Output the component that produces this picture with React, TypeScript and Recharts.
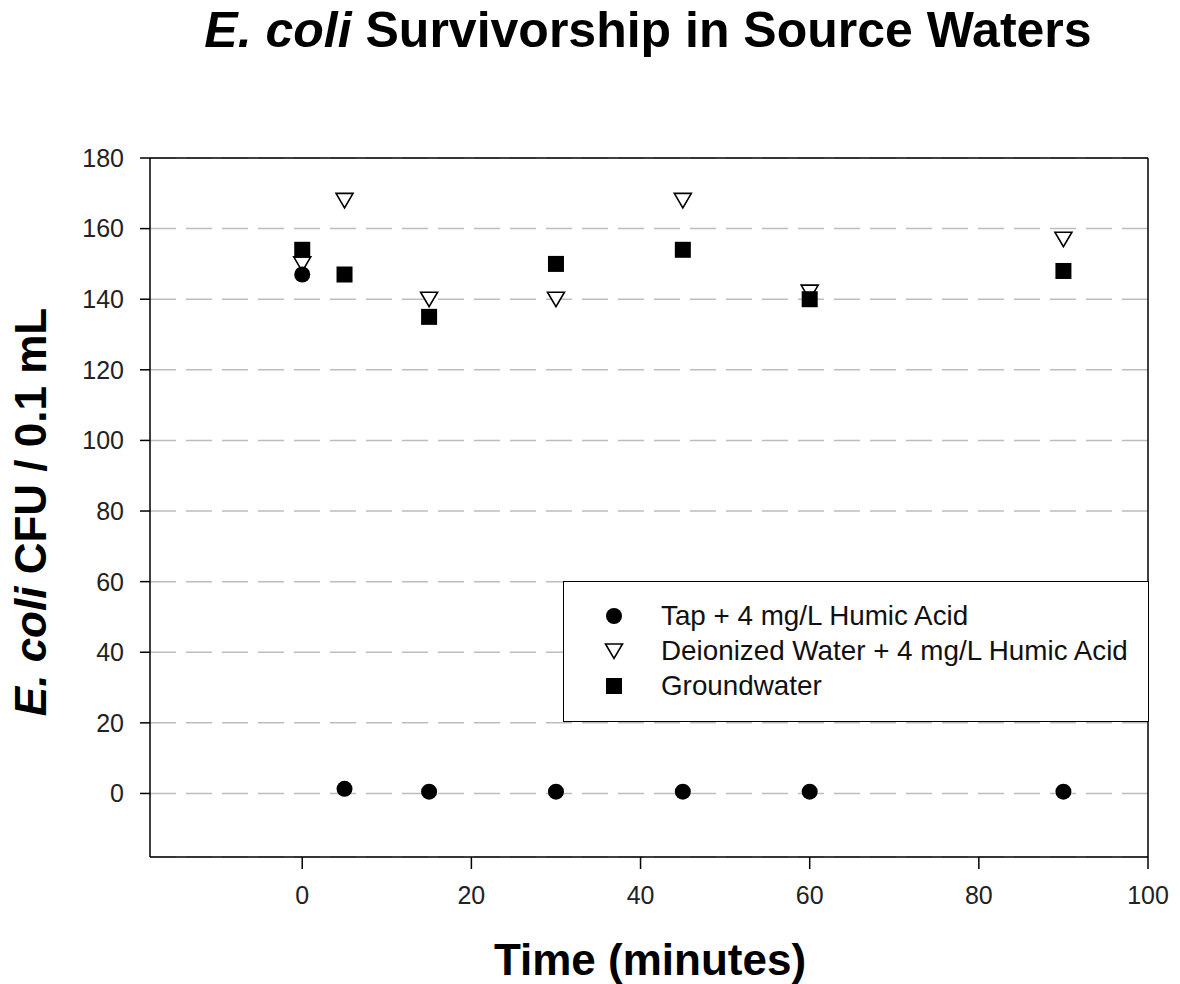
import React from 'react'
import { ScatterChart, Scatter, XAxis, YAxis, CartesianGrid, ReferenceLine } from 'recharts'

const times = [0, 5, 15, 30, 45, 60, 90]
const tapHumic = [147, 1.3, 0.5, 0.5, 0.5, 0.5, 0.5]
const deionizedHumic = [150, 168, 140, 140, 168, 142, 157]
const groundwater = [154, 147, 135, 150, 154, 140, 148]

const xTicks = [0, 20, 40, 60, 80, 100]
const yTicks = [0, 20, 40, 60, 80, 100, 120, 140, 160, 180]

const seriesNames = [
  'Tap + 4 mg/L Humic Acid',
  'Deionized Water + 4 mg/L Humic Acid',
  'Groundwater',
]

const toPoints = (vals: number[]) => times.map((t, i) => ({ x: t, y: vals[i] }))

const FONT = '"Liberation Sans", Arial, sans-serif'

const Dot = ({ cx, cy }: any) => <circle cx={cx} cy={cy} r={8} fill="#000" />
const Square = ({ cx, cy }: any) => <rect x={cx - 8} y={cy - 8} width={16} height={16} fill="#000" />
const TriDown = ({ cx, cy }: any) => (
  <path
    d={`M${cx - 8.5},${cy - 7} L${cx + 8.5},${cy - 7} L${cx},${cy + 7.5} Z`}
    fill="#fff"
    stroke="#000"
    strokeWidth={1.6}
  />
)

const legendMarkers = [
  <Dot cx={10} cy={10} />,
  <TriDown cx={10} cy={10} />,
  <Square cx={10} cy={10} />,
]

function LegendBox() {
  return (
    <div
      style={{
        position: 'absolute',
        left: 563,
        top: 581,
        width: 586,
        height: 141,
        border: '1.5px solid #000',
        background: '#fff',
        fontFamily: FONT,
        fontSize: 27.8,
        color: '#111',
        boxSizing: 'border-box',
      }}
    >
      {seriesNames.map((name, i) => (
        <div
          key={name}
          style={{
            position: 'absolute',
            left: 0,
            top: 16 + i * 35,
            height: 35,
            display: 'flex',
            alignItems: 'center',
            whiteSpace: 'nowrap',
          }}
        >
          <svg width={20} height={20} style={{ marginLeft: 40 }}>
            {legendMarkers[i]}
          </svg>
          <span style={{ marginLeft: 37 }}>{name}</span>
        </div>
      ))}
    </div>
  )
}

export default function App() {
  return (
    <div style={{ position: 'absolute', left: 0, top: 0, width: 1180, height: 984, background: '#fff' }}>
      <div
        style={{
          position: 'absolute',
          left: 0,
          top: 1,
          width: 1296,
          textAlign: 'center',
          fontFamily: FONT,
          fontWeight: 'bold',
          fontSize: 50,
          color: '#000',
          whiteSpace: 'nowrap',
        }}
      >
        <i>E. coli</i> Survivorship in Source Waters
      </div>

      <ScatterChart
        width={1180}
        height={984}
        margin={{ top: 158, right: 32, bottom: 97, left: 80 }}
        style={{ fontFamily: FONT }}
      >
        <CartesianGrid vertical={false} stroke="#bdbdbd" strokeDasharray="26 10" strokeWidth={1.5} />
        <XAxis
          type="number"
          dataKey="x"
          domain={[-18, 100]}
          ticks={xTicks}
          allowDataOverflow
          axisLine={{ stroke: '#000', strokeWidth: 1.5 }}
          tickLine={{ stroke: '#000', strokeWidth: 1.5 }}
          tickSize={12}
          tickMargin={17}
          tick={{ fill: '#222', fontSize: 25 }}
          height={30}
        />
        <YAxis
          type="number"
          dataKey="y"
          domain={[-18, 180]}
          ticks={yTicks}
          allowDataOverflow
          axisLine={{ stroke: '#000', strokeWidth: 1.5 }}
          tickLine={{ stroke: '#000', strokeWidth: 1.5 }}
          tickSize={10}
          tickMargin={16}
          tick={{ fill: '#222', fontSize: 25 }}
          width={70}
        />
        <ReferenceLine y={180} stroke="#000" strokeWidth={1.5} />
        <ReferenceLine x={100} stroke="#000" strokeWidth={1.5} />
        <Scatter
          name={seriesNames[1]}
          data={toPoints(deionizedHumic)}
          shape={(p: any) => <TriDown cx={p.cx} cy={p.cy} />}
          isAnimationActive={false}
        />
        <Scatter
          name={seriesNames[0]}
          data={toPoints(tapHumic)}
          shape={(p: any) => <Dot cx={p.cx} cy={p.cy} />}
          isAnimationActive={false}
        />
        <Scatter
          name={seriesNames[2]}
          data={toPoints(groundwater)}
          shape={(p: any) => <Square cx={p.cx} cy={p.cy} />}
          isAnimationActive={false}
        />
      </ScatterChart>

      <LegendBox />

      <div
        style={{
          position: 'absolute',
          left: 31,
          top: 512,
          transform: 'translate(-50%, -50%) rotate(-90deg)',
          whiteSpace: 'nowrap',
          fontFamily: FONT,
          fontWeight: 'bold',
          fontSize: 44,
          color: '#000',
        }}
      >
        <i>E. coli</i> CFU / 0.1 mL
      </div>

      <div
        style={{
          position: 'absolute',
          left: 0,
          top: 935,
          width: 1300,
          textAlign: 'center',
          fontFamily: FONT,
          fontWeight: 'bold',
          fontSize: 44,
          color: '#000',
          whiteSpace: 'nowrap',
        }}
      >
        Time (minutes)
      </div>
    </div>
  )
}
